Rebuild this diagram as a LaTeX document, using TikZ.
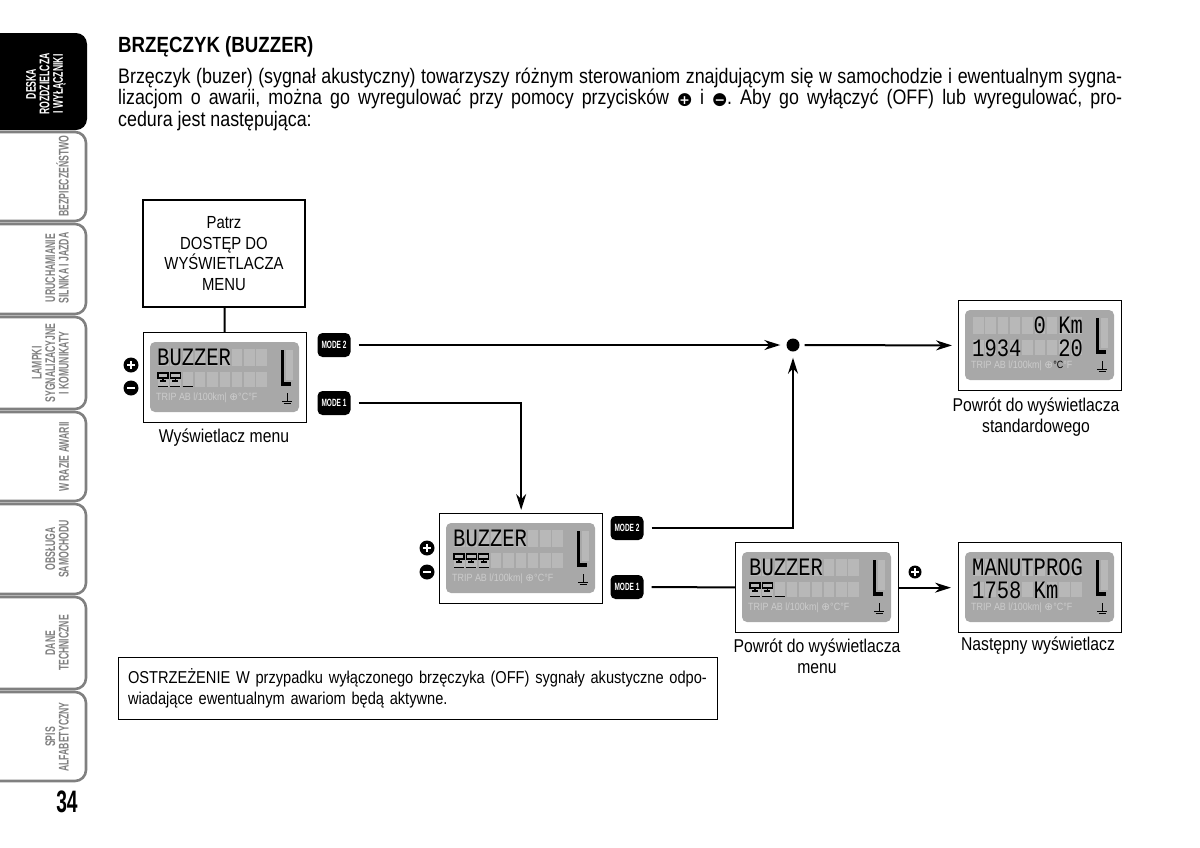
\documentclass[tikz,border=0pt]{standalone}
\usepackage{graphicx}
\usepackage{fontspec}
\setmainfont{Liberation Sans}[FakeStretch=0.85]
\newfontfamily\tabfont{Liberation Sans}[FakeStretch=0.62]
\newfontfamily\segfont{Liberation Mono}
\newfontfamily\symfont{DejaVu Sans}
\usetikzlibrary{arrows.meta}
\definecolor{lcdc}{gray}{0.66}
\definecolor{cellc}{gray}{0.72}
\definecolor{lcdtxt}{gray}{0.80}
\definecolor{tabgray}{gray}{0.5}
\frenchspacing

\newsavebox\dotbox
\newcommand\pmico[1]{\sbox\dotbox{\symfont\fontsize{17}{17}\selectfont ●}\rlap{\usebox\dotbox}\makebox[\wd\dotbox]{\textcolor{white}{\symfont\bfseries\fontsize{12.5}{12.5}\selectfont #1}}}

\newcommand\lcdbase{%
  \fill[lcdc, rounded corners=5pt] (7,10) rectangle (156,80);
  \foreach \i in {0,...,8}{%
    \fill[cellc] ({15+\i*12.3},17) rectangle ++(10.5,17);
    \fill[cellc] ({15+\i*12.3},40) rectangle ++(10.5,15);}
  \fill[cellc] (143,18) rectangle (150,48);
  \fill[black] (137.5,18) rectangle (140.5,54);
  \fill[black] (140.5,50) rectangle (148,54);
  \draw[black, line width=0.8pt] (144,61) -- (144,69) (139,69) -- (149,69);
  \draw[black, line width=0.6pt] (140.5,71.5) -- (147.5,71.5);
}
\newcommand\segs[3]{\node[segtext] at ({14+#1*12.3},#2) {\scalebox{1}[1.22]{#3}};}
\newcommand\cups[1]{%
  \foreach \i in {1,...,#1}{%
    \pgfmathsetmacro\cx{15+(\i-1)*12.3}
    \draw[line width=1.3pt] (\cx,41) rectangle ++(10,5);
    \draw[line width=1.3pt] (\cx+5,46) -- (\cx+5,49) (\cx+2,49) -- (\cx+8,49);}
  \foreach \i in {0,1,2}{\draw[line width=1.5pt] ({15+\i*12.3},54.5) -- ++(10,0);}
}

\begin{document}
\begin{tikzpicture}[x=1pt,y=-1pt,
  box/.style={draw=black, line width=1.3pt},
  dispbox/.style={draw=black, line width=1.3pt, minimum width=163pt, minimum height=90pt, inner sep=0pt, anchor=north west},
  conn/.style={line width=2pt},
  arr/.style={-{Stealth[length=16pt,width=10pt]}},
  modelabel/.style={fill=black, rounded corners=5pt, minimum width=33pt, minimum height=24pt, inner sep=0pt, text=white, font=\tabfont\bfseries\fontsize{10.5}{10.5}\selectfont},
  caption/.style={font=\fontsize{18.5}{21}\selectfont, align=center, inner sep=0pt},
  para/.style={anchor=base west, inner sep=0pt, font=\fontsize{21}{23}\selectfont},
  segtext/.style={font=\segfont\fontsize{20.5}{20.5}\selectfont, inner sep=0pt, anchor=west},
  lcdsmall/.style={font=\fontsize{10.5}{10.5}\selectfont, text=lcdtxt, inner sep=0pt, anchor=west},
  tabframe/.style={draw=tabgray, line width=2.6pt, rounded corners=11pt},
  tabtext/.style={font=\tabfont\bfseries\fontsize{14}{13.5}\selectfont, text=tabgray, align=center, rotate=90, anchor=south, inner sep=0pt},
  pm/.style={circle, fill=black, minimum size=15pt, inner sep=0pt},
  plusmark/.style={pm, path picture={\draw[white,line width=2.2pt] ([xshift=-4pt]path picture bounding box.center) -- ([xshift=4pt]path picture bounding box.center) ([yshift=-4pt]path picture bounding box.center) -- ([yshift=4pt]path picture bounding box.center);}},
  minusmark/.style={pm, path picture={\draw[white,line width=2.2pt] ([xshift=-4pt]path picture bounding box.center) -- ([xshift=4pt]path picture bounding box.center);}}
]
\useasboundingbox (0,0) rectangle (1200,847);
\fill[white] (0,0) rectangle (1200,847);

% side tabs
\begin{scope}
  \clip (0,0) rectangle (100,847);
  \fill[black, rounded corners=11pt] (-30,33) rectangle (87,130);
  \foreach \t/\b in {131/222, 223/315, 316/410, 411/502, 503/595, 596/690, 691/782}
    \draw[tabframe] (-30,\t+1) rectangle (86,\b-1);
\end{scope}
\node[tabtext, text=white] (tab1) at (66,84) {DESKA\\ROZDZIELCZA\\I WYŁĄCZNIKI};
\node[tabtext] (tab2) at (69,176) {BEZPIECZEŃSTWO};
\node[tabtext] (tab3) at (69,268) {URUCHAMIANIE\\SILNIKA I JAZDA};
\node[tabtext] (tab4) at (69,363) {LAMPKI\\SYGNALIZACYJNE\\I KOMUNIKATY};
\node[tabtext] (tab5) at (69,457) {W RAZIE AWARII};
\node[tabtext] (tab6) at (69,549) {OBSŁUGA\\SAMOCHODU};
\node[tabtext] (tab7) at (69,643) {DANE\\TECHNICZNE};
\node[tabtext] (tab8) at (69,737) {SPIS\\ALFABETYCZNY};
\node[font=\tabfont\bfseries\fontsize{31}{31}\selectfont, inner sep=0pt] (pagenum) at (67,802) {34};

% title and paragraph
\node[anchor=base west, inner sep=0pt, font=\bfseries\fontsize{22}{24}\selectfont] (title) at (118,52) {BRZĘCZYK (BUZZER)};
\node[para] (p1) at (118,83)
  {\makebox[1004pt][s]{Brzęczyk (buzer) (sygnał akustyczny) towarzyszy różnym sterowaniom znajdującym się w samochodzie i ewentualnym sygna-}};
\node[para] (p2) at (118,104.5)
  {\makebox[1004pt][s]{lizacjom o awarii, można go wyregulować przy pomocy przycisków \pmico{+} i \pmico{−}. Aby go wyłączyć (OFF) lub wyregulować, pro-}};
\node[para] (p3) at (118,126)
  {cedura jest następująca:};

% boxes
\node[box, minimum width=162pt, minimum height=107pt, align=center, inner sep=0pt, font=\fontsize{17.5}{20.5}\selectfont] (patrz) at (224,253.5) {Patrz\\DOSTĘP DO\\WYŚWIETLACZA\\MENU};
\node[dispbox] (d1) at (143,332) {};
\node[dispbox] (d2) at (439,513) {};
\node[dispbox] (d3) at (958,300) {};
\node[dispbox] (d4) at (735,542) {};
\node[dispbox] (d5) at (958,542) {};

% LCD contents
\begin{scope}[shift={(d1.north west)}]
  \lcdbase \segs{0}{25.5}{BUZZER} \cups{2}
  \node[lcdsmall] at (13,66) {TRIP AB l/100km| {\symfont ⊕}°C°F};
\end{scope}
\begin{scope}[shift={(d2.north west)}]
  \lcdbase \segs{0}{25.5}{BUZZER} \cups{3}
  \node[lcdsmall] at (13,66) {TRIP AB l/100km| {\symfont ⊕}°C°F};
\end{scope}
\begin{scope}[shift={(d3.north west)}]
  \lcdbase \segs{5}{25.5}{0} \segs{7}{25.5}{Km} \segs{0}{48}{1934} \segs{7}{48}{20}
  \node[lcdsmall] at (13,66) {TRIP AB l/100km| {\symfont ⊕}\textcolor{black}{°C}°F};
\end{scope}
\begin{scope}[shift={(d4.north west)}]
  \lcdbase \segs{0}{25.5}{BUZZER} \cups{2}
  \node[lcdsmall] at (13,66) {TRIP AB l/100km| {\symfont ⊕}°C°F};
\end{scope}
\begin{scope}[shift={(d5.north west)}]
  \lcdbase \segs{0}{25.5}{MANUTPROG} \segs{0}{48}{1758} \segs{5}{48}{Km}
  \node[lcdsmall] at (13,66) {TRIP AB l/100km| {\symfont ⊕}°C°F};
\end{scope}

% buttons
\node[plusmark] (pl1) at (131,365) {};
\node[minusmark] (mi1) at (131,388) {};
\node[plusmark] (pl2) at (427,548) {};
\node[minusmark] (mi2) at (427,572) {};
\node[plusmark, minimum size=13pt] (pl3) at (915,572) {};

% mode labels
\node[modelabel] (m1a) at (334,345) {MODE 2};
\node[modelabel] (m1b) at (334,403) {MODE 1};
\node[modelabel] (m2a) at (627,528) {MODE 2};
\node[modelabel] (m2b) at (627,587) {MODE 1};
\node[circle, fill=black, minimum size=13pt, inner sep=0pt] (dot) at (793,345) {};

% connectors
\draw[conn] (patrz) -- (d1);
\draw[conn, arr, shorten <=8pt, shorten >=6pt] (m1a) -- (dot);
\draw[conn, arr, shorten <=5pt, shorten >=6pt] (dot) -- (d3);
\draw[conn, arr, shorten <=8pt, shorten >=3pt] (m1b) -| (d2);
\draw[conn, arr, shorten <=8pt, shorten >=6pt] (m2a) -| (dot);
\draw[conn, shorten <=8pt] (m2b) -- (d4);
\draw[conn, arr, shorten >=7pt] (d4) -- (d5);

% captions
\node[caption] (c1) at (224,438) {Wyświetlacz menu};
\node[caption] (c3) at (1036,417.5) {Powrót do wyświetlacza\\standardowego};
\node[caption] (c4) at (817,656.5) {Powrót do wyświetlacza\\menu};
\node[caption] (c5) at (1038,646) {Następny wyświetlacz};

% warning
\node[box, line width=1pt, minimum width=599pt, minimum height=62pt, text width=579pt, inner xsep=10pt, align=left, font=\fontsize{17.2}{21}\selectfont] (warn) at (417.5,688)
  {\makebox[577pt][s]{OSTRZEŻENIE W przypadku wyłączonego brzęczyka (OFF) sygnały akustyczne odpo-}\\wiadające ewentualnym awariom będą aktywne.};
\end{tikzpicture}
\end{document}
